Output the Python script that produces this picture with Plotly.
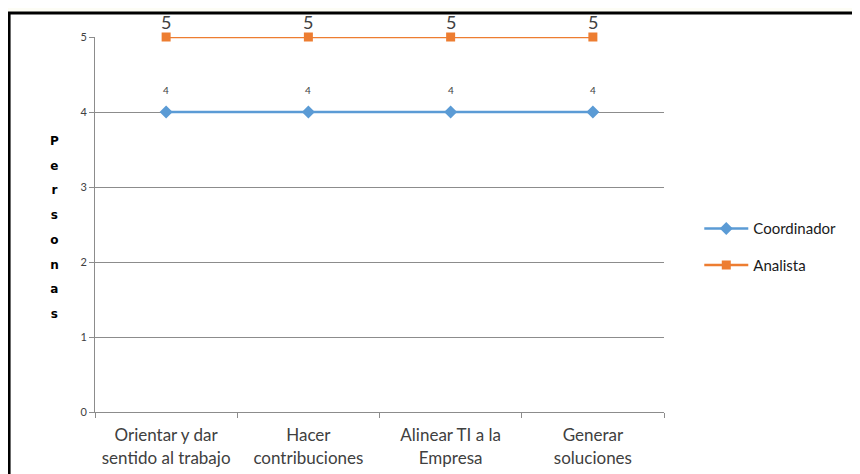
import plotly.graph_objects as go

categories = ["Orientar y dar<br>sentido al trabajo", "Hacer<br>contribuciones",
              "Alinear TI a la<br>Empresa", "Generar<br>soluciones"]
coordinador = [4, 4, 4, 4]
analista = [5, 5, 5, 5]
y_ticks = [0, 1, 2, 3, 4, 5]
y_title = "Personas"

FONT = "Lato, Open Sans, sans-serif"
fig = go.Figure()
fig.add_trace(go.Scatter(
    x=categories, y=coordinador, name="Coordinador", mode="lines+markers",
    line=dict(color="#5B9BD5", width=2.5),
    marker=dict(symbol="diamond", size=10, color="#5B9BD5"),
    cliponaxis=False, legendgroup="a"))
fig.add_trace(go.Scatter(
    x=categories, y=analista, name="Analista", mode="lines+markers",
    line=dict(color="#ED7D31", width=2.5),
    marker=dict(symbol="square", size=9, color="#ED7D31"),
    cliponaxis=False, legendgroup="b"))

annotations = []
for c, v in zip(categories, coordinador):
    annotations.append(dict(x=c, y=v, text=str(v), showarrow=False, yshift=22,
                            font=dict(size=10, color="#404040", family=FONT)))
for c, v in zip(categories, analista):
    annotations.append(dict(x=c, y=v, text=str(v), showarrow=False, yshift=15,
                            font=dict(size=18, color="#404040", family=FONT)))
annotations.append(dict(
    xref="paper", yref="paper", x=-0.0826, y=0.493, showarrow=False,
    text="<br>".join(f"<b><span style='font-size:12px'>{ch}</span></b>" for ch in y_title),
    font=dict(size=19, color="#000000", family="DejaVu Sans")))

fig.update_layout(
    width=852, height=466,
    margin=dict(l=87, r=196, t=29, b=62, autoexpand=False),
    paper_bgcolor="#fdfdf5", plot_bgcolor="white",
    font=dict(family=FONT, color="#404040"),
    showlegend=True,
    legend=dict(x=1.062, y=0.441, xanchor="left", yanchor="middle",
                font=dict(size=15, color="#1a1a1a", family=FONT),
                tracegroupgap=14, traceorder="grouped",
                bgcolor="rgba(0,0,0,0)", itemwidth=44),
    annotations=annotations,
    shapes=[dict(type="rect", xref="paper", yref="paper",
                 x0=-0.151, y0=-0.5, x1=2, y1=1.064,
                 line=dict(color="black", width=3), fillcolor="white", layer="below")],
)
fig.update_xaxes(type="category", tickson="boundaries", ticks="outside", ticklen=5,
                 tickcolor="#8c8c8c", showline=True, linecolor="#8c8c8c", linewidth=1,
                 showgrid=False, tickfont=dict(size=17, color="#404040", family=FONT),
                 ticklabelstandoff=8, range=[-0.5, 3.5])
fig.update_yaxes(range=[0, 5], tickvals=y_ticks, ticks="outside", ticklen=5,
                 tickcolor="#8c8c8c", showline=True, linecolor="#8c8c8c", linewidth=1,
                 showgrid=True, gridcolor="#8c8c8c", gridwidth=1, zeroline=False,
                 tickfont=dict(size=11, color="#404040", family=FONT))

fig.write_html("out.html")
